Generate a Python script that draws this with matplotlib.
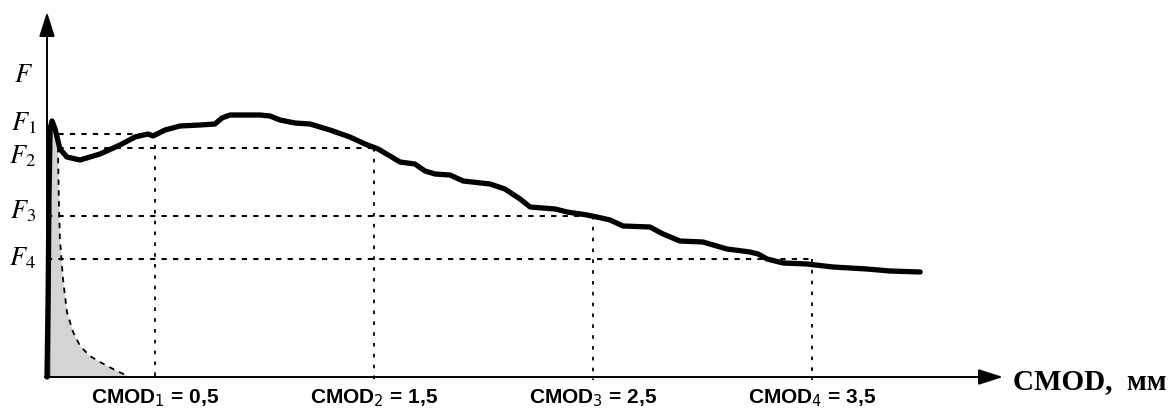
import numpy as np
import matplotlib
matplotlib.use("Agg")
import matplotlib.pyplot as plt

plt.rcParams['mathtext.fontset'] = 'stix'

# ---- data (CMOD in mm, F in relative units) ----
cmod_curve = [0.008, 0.013, 0.017, 0.022, 0.031, 0.045, 0.067, 0.099, 0.159, 0.204,
              0.250, 0.341, 0.410, 0.469, 0.492, 0.547, 0.615, 0.707, 0.775, 0.807,
              0.844, 0.981, 1.026, 1.072, 1.140, 1.209, 1.300, 1.391, 1.460, 1.520,
              1.574, 1.620, 1.688, 1.734, 1.780, 1.848, 1.908, 2.031, 2.099, 2.168,
              2.214, 2.328, 2.383, 2.474, 2.519, 2.579, 2.638, 2.761, 2.821, 2.898,
              3.003, 3.113, 3.218, 3.255, 3.296, 3.369, 3.478, 3.597, 3.752, 3.857,
              3.995]
force_curve = [0.00, 0.78, 1.78, 2.48, 2.56, 2.48, 2.28, 2.20, 2.17, 2.20,
               2.23, 2.32, 2.40, 2.43, 2.41, 2.47, 2.51, 2.52, 2.53, 2.59,
               2.62, 2.62, 2.61, 2.57, 2.54, 2.53, 2.47, 2.40, 2.33, 2.28,
               2.21, 2.15, 2.13, 2.06, 2.03, 2.02, 1.96, 1.93, 1.88, 1.78,
               1.70, 1.68, 1.65, 1.62, 1.60, 1.57, 1.51, 1.50, 1.43, 1.36,
               1.35, 1.28, 1.25, 1.23, 1.18, 1.14, 1.13, 1.10, 1.08, 1.06,
               1.05]

unload_cmod = [0.058, 0.062, 0.067, 0.081, 0.099, 0.127, 0.159, 0.204, 0.250, 0.318, 0.386]
unload_force = [2.30, 1.78, 1.38, 0.98, 0.65, 0.45, 0.31, 0.21, 0.15, 0.07, 0.0]

cmod_ticks = [0.5, 1.5, 2.5, 3.5]
tick_labels = ["CMOD$_1$ = 0,5", "CMOD$_2$ = 1,5", "CMOD$_3$ = 2,5", "CMOD$_4$ = 3,5"]
f_levels = [2.43, 2.29, 1.61, 1.18]
f_labels = ["$F_1$", "$F_2$", "$F_3$", "$F_4$"]

# ---- figure ----
W, H = 1170, 414
fig = plt.figure(figsize=(W / 100, H / 100), dpi=100)
ax = fig.add_axes([0, 0, 1, 1])
x0px, sx = 45.25, 219.0
y0px, sy = 378.0, 100.0
ax.set_xlim(-x0px / sx, (W - x0px) / sx)
ax.set_ylim(-(H - y0px) / sy, y0px / sy)
ax.axis('off')

yaxis_x = 0.008
x_tip = (1003 - x0px) / sx
y_tip = (y0px - 13) / sy

# shaded area under loading / unloading
cx = np.array(cmod_curve)
cf = np.array(force_curve)
mask = cx <= 0.055
poly_x = np.concatenate([[yaxis_x], cx[mask], unload_cmod])
poly_y = np.concatenate([[0.0], cf[mask], unload_force])
ax.fill(poly_x, poly_y, color='#d4d4d4', lw=0, zorder=1)
ax.fill([yaxis_x, 0.025, 0.025, yaxis_x], [0, 0, 2.3, 2.3], color='#9a9a9a', lw=0, zorder=1)
ax.plot(unload_cmod, unload_force, color='k', lw=1.3, ls=(0, (3, 3)), zorder=3)

# guide lines
for xc, fl in zip(cmod_ticks, f_levels):
    ax.plot([yaxis_x, xc], [fl, fl], color='k', lw=1.5, ls=(0, (2.5, 3.0)), zorder=2)
    ax.plot([xc, xc], [fl, -0.03], color='k', lw=1.3, ls=(0, (2, 4)), zorder=2)

# main curve
ax.plot(cmod_curve, force_curve, color='k', lw=3.8, solid_joinstyle='round',
        solid_capstyle='round', zorder=4)

# axes with arrows
arrow_kw = dict(arrowstyle='-|>,head_length=0.75,head_width=0.24', color='k',
                lw=1.4, mutation_scale=20, shrinkA=0, shrinkB=0)
ax.annotate('', xy=(x_tip, 0), xytext=(yaxis_x - 0.01, 0), arrowprops=arrow_kw, zorder=5)
ax.annotate('', xy=(yaxis_x, y_tip), xytext=(yaxis_x, 0), arrowprops=arrow_kw, zorder=5)

# y labels
lab_dy = [0.05, -0.14, -0.01, -0.05]
for fl, lab, d in zip(f_levels, f_labels, lab_dy):
    ax.text(-0.042, fl + d, lab, fontsize=19, ha='right', va='baseline', color='k')
ax.text(-0.058, 2.96, "$F$", fontsize=19, ha='right', va='baseline', color='k')

# x tick labels
for xc, lab in zip(cmod_ticks, tick_labels):
    ax.text(xc, -0.255, lab, fontsize=15, fontweight='bold', ha='center', va='baseline',
            color='k', family='Liberation Sans', math_fontfamily='dejavusans')

# x axis title
ax.text((1013 - x0px) / sx, -0.11, "CMOD,  мм", fontsize=21, fontweight='bold',
        family='Liberation Serif', ha='left', va='baseline', color='k')

fig.savefig('out.png', dpi=100)
